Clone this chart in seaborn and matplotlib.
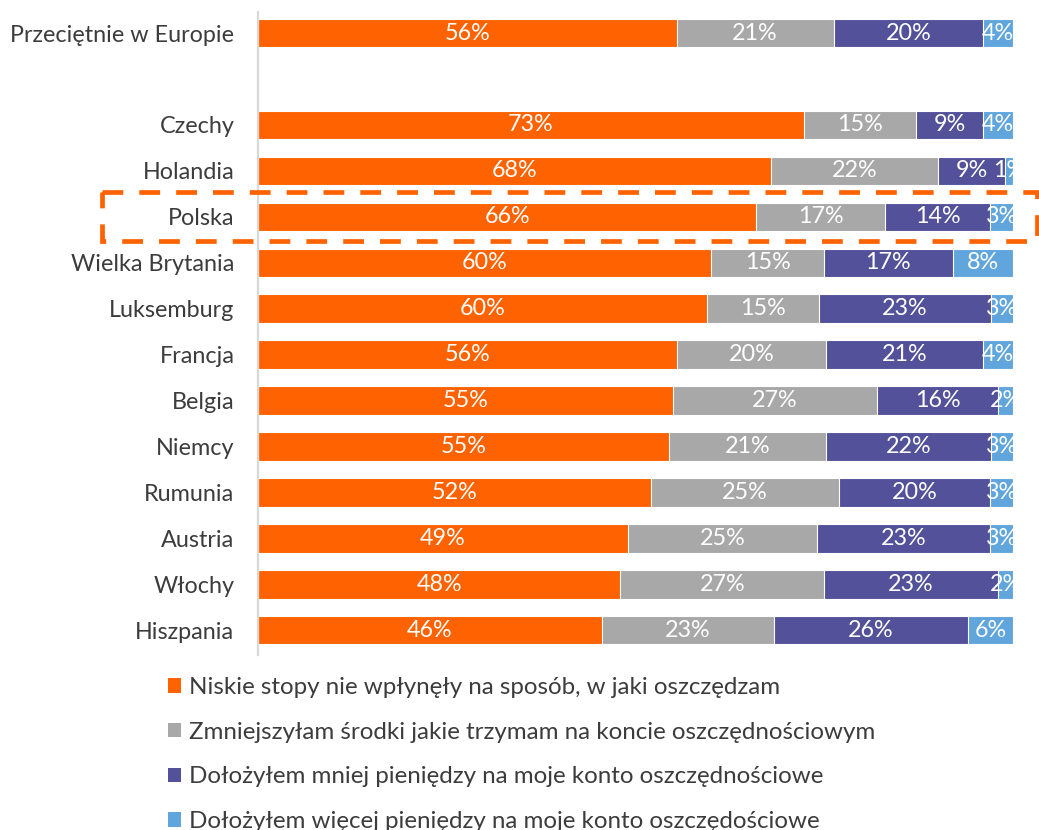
import numpy as np
import pandas as pd
import matplotlib
matplotlib.use("Agg")
import matplotlib.pyplot as plt
from matplotlib.patches import Patch, Rectangle
import seaborn as sns

# ---- data ----
countries = ["Przeciętnie w Europie", " ", "Czechy", "Holandia", "Polska",
             "Wielka Brytania", "Luksemburg", "Francja", "Belgia", "Niemcy",
             "Rumunia", "Austria", "Włochy", "Hiszpania"]
data_countries = ["Przeciętnie w Europie", "Czechy", "Holandia", "Polska",
                  "Wielka Brytania", "Luksemburg", "Francja", "Belgia", "Niemcy",
                  "Rumunia", "Austria", "Włochy", "Hiszpania"]
nie_wplynely = [56, 73, 68, 66, 60, 60, 56, 55, 55, 52, 49, 48, 46]
zmniejszylam = [21, 15, 22, 17, 15, 15, 20, 27, 21, 25, 25, 27, 23]
mniej = [20, 9, 9, 14, 17, 23, 21, 16, 22, 20, 23, 23, 26]
wiecej = [4, 4, 1, 3, 8, 3, 4, 2, 3, 3, 3, 2, 6]
series_labels = [
    "Niskie stopy nie wpłynęły na sposób, w jaki oszczędzam",
    "Zmniejszyłam środki jakie trzymam na koncie oszczędnościowym",
    "Dołożyłem mniej pieniędzy na moje konto oszczędnościowe",
    "Dołożyłem więcej pieniędzy na moje konto oszczędościowe",
]
colors = ["#FF6200", "#A8A8A8", "#525199", "#60A6DC"]
highlight = "Polska"

sns.set_theme(style="white")
plt.rcParams["font.family"] = ["Lato", "DejaVu Sans"]
FS = 16.8
FS_LEG = 17.4
TXT = "#3C3C3C"

vals = np.array([nie_wplynely, zmniejszylam, mniej, wiecej], dtype=float)
norm = vals / vals.sum(axis=0) * 100
cum = np.cumsum(norm, axis=0)

fig = plt.figure(figsize=(10.39, 8.30), dpi=100)
ax = fig.add_axes([258 / 1039, 1 - 655 / 830, (1013 - 258) / 1039, (655 - 12) / 830])

for k in range(3, -1, -1):
    df = pd.DataFrame({"kraj": data_countries, "v": cum[k]})
    sns.barplot(data=df, x="v", y="kraj", order=countries, orient="h",
                color=colors[k], saturation=1, width=0.62, errorbar=None,
                edgecolor="white", linewidth=0.8, ax=ax)

for i, c in enumerate(data_countries):
    pos = countries.index(c)
    left = 0.0
    for k in range(4):
        w = norm[k, i]
        ax.text(left + w / 2, pos, f"{int(vals[k, i])}%", ha="center", va="center",
                color="white", fontsize=FS, clip_on=True)
        left += w

ax.set_xlim(0, 100)
ax.set_ylim(13.54, -0.46)
ax.set_xlabel("")
ax.set_ylabel("")
ax.set_xticks([])
for s in ["top", "right", "bottom"]:
    ax.spines[s].set_visible(False)
ax.spines["left"].set_color("#D9D9D9")
ax.spines["left"].set_linewidth(1.6)
ax.tick_params(axis="y", length=0, pad=17, labelsize=FS, labelcolor=TXT)

# highlight box around Polska row
pos = countries.index(highlight)
box = Rectangle((102 / 1039, pos - 0.53), (1037 - 102) / 1039, 1.06,
                transform=matplotlib.transforms.blended_transform_factory(fig.transFigure, ax.transData),
                fill=False, edgecolor="#FF6200", linewidth=3.4,
                linestyle=(0, (4.4, 3.4)), clip_on=False)
fig.add_artist(box)

handles = [Patch(facecolor=c, edgecolor="none") for c in colors]
fig.legend(handles, series_labels, loc="upper left",
           bbox_to_anchor=(168 / 1039, 1 - 677 / 830), frameon=False,
           fontsize=FS_LEG, labelcolor=TXT, handlelength=0.55, handleheight=0.55,
           handletextpad=0.33, labelspacing=0.98, borderpad=0, borderaxespad=0)

fig.savefig("out.png", dpi=100)
